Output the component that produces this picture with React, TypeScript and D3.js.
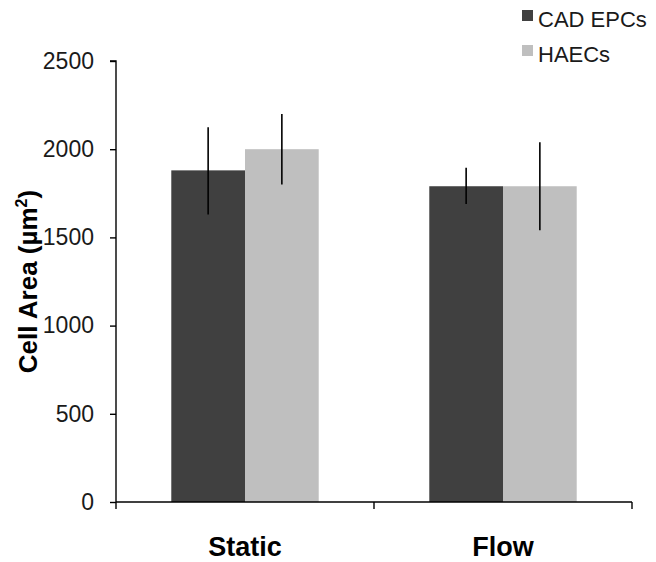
import React, { useEffect, useRef } from 'react';
import * as d3 from 'd3';

const categories = ['Static', 'Flow'];
const seriesNames = ['CAD EPCs', 'HAECs'];
const seriesColors = ['#404040', '#bfbfbf'];
const cadValues = [1880, 1790];
const cadErrLow = [1630, 1690];
const cadErrHigh = [2125, 1895];
const haecValues = [2000, 1790];
const haecErrLow = [1800, 1540];
const haecErrHigh = [2200, 2040];
const yTicks = [0, 500, 1000, 1500, 2000, 2500];

const FONT = 'Liberation Sans, Arial, sans-serif';

export default function App() {
  const ref = useRef<SVGSVGElement | null>(null);

  useEffect(() => {
    const width = 656;
    const height = 562;
    const left = 116;
    const right = 632;
    const top = 61;
    const bottom = 502;

    const svg = d3.select(ref.current);
    svg.selectAll('*').remove();
    svg.append('rect').attr('width', width).attr('height', height).attr('fill', '#fff');

    const x = d3.scaleBand().domain(categories).range([left, right]).paddingInner(0).paddingOuter(0);
    const inner = d3.scaleBand().domain(seriesNames).range([0, x.bandwidth()]).paddingOuter(0.75).paddingInner(0);
    const y = d3.scaleLinear().domain([0, 2500]).range([bottom, top]);

    const rows = categories.map((c, i) => [
      { cat: c, s: seriesNames[0], v: cadValues[i], lo: cadErrLow[i], hi: cadErrHigh[i], color: seriesColors[0] },
      { cat: c, s: seriesNames[1], v: haecValues[i], lo: haecErrLow[i], hi: haecErrHigh[i], color: seriesColors[1] },
    ]).flat();

    //bars
    svg.append('g').selectAll('rect').data(rows).join('rect')
      .attr('x', d => x(d.cat)! + inner(d.s)!)
      .attr('y', d => y(d.v))
      .attr('width', inner.bandwidth())
      .attr('height', d => y(0) - y(d.v))
      .attr('fill', d => d.color);

    //error bars
    svg.append('g').selectAll('line').data(rows).join('line')
      .attr('x1', d => x(d.cat)! + inner(d.s)! + inner.bandwidth() / 2)
      .attr('x2', d => x(d.cat)! + inner(d.s)! + inner.bandwidth() / 2)
      .attr('y1', d => y(d.lo))
      .attr('y2', d => y(d.hi))
      .attr('stroke', '#000')
      .attr('stroke-width', 1.6);

    //y axis
    const yAxis = svg.append('g')
      .attr('transform', `translate(${left},0)`)
      .call(d3.axisLeft(y).tickValues(yTicks).tickSize(6).tickPadding(16).tickFormat(d3.format('d')));
    yAxis.select('.domain').attr('stroke', '#000').attr('stroke-width', 1.4).attr('d', `M-6,${top}H0V${bottom}`);
    yAxis.selectAll('.tick line').attr('stroke-width', 1.4);
    yAxis.selectAll('text').attr('font-family', FONT).attr('font-size', 23).attr('fill', '#1a1a1a');

    //x axis
    const xg = svg.append('g').attr('transform', `translate(0,${bottom})`);
    xg.append('line').attr('x1', left).attr('x2', right).attr('stroke', '#000').attr('stroke-width', 1.4);
    const boundaries = [left, ...categories.map(c => x(c)! + x.bandwidth())];
    xg.selectAll('line.tk').data(boundaries).join('line').attr('class', 'tk')
      .attr('x1', d => d).attr('x2', d => d).attr('y1', 0).attr('y2', 7)
      .attr('stroke', '#000').attr('stroke-width', 1.4);
    xg.selectAll('text').data(categories).join('text')
      .attr('x', d => x(d)! + x.bandwidth() / 2)
      .attr('y', 54)
      .attr('text-anchor', 'middle')
      .attr('font-family', FONT)
      .attr('font-weight', 'bold')
      .attr('font-size', 27)
      .text(d => d);

    //y title
    const title = svg.append('text')
      .attr('transform', `translate(37,${(top + bottom) / 2}) rotate(-90)`)
      .attr('text-anchor', 'middle')
      .attr('font-family', FONT)
      .attr('font-weight', 'bold')
      .attr('font-size', 26);
    title.append('tspan').text('Cell Area (µm');
    title.append('tspan').attr('font-size', 16).attr('dy', -10).text('2');
    title.append('tspan').attr('dy', 10).text(')');

    //legend
    const lg = svg.append('g').attr('transform', 'translate(522,0)');
    const items = lg.selectAll('g').data(seriesNames).join('g')
      .attr('transform', (d, i) => `translate(0,${i * 35})`);
    items.append('rect').attr('width', 11).attr('height', 11).attr('y', 10)
      .attr('fill', (d, i) => seriesColors[i]);
    items.append('text').attr('x', 16).attr('y', 27)
      .attr('font-family', FONT)
      .attr('font-size', 22)
      .attr('fill', '#1a1a1a')
      .text(d => d);
  }, []);

  return <svg ref={ref} width={656} height={562} style={{ position: 'absolute', left: 0, top: 0 }} />;
}
